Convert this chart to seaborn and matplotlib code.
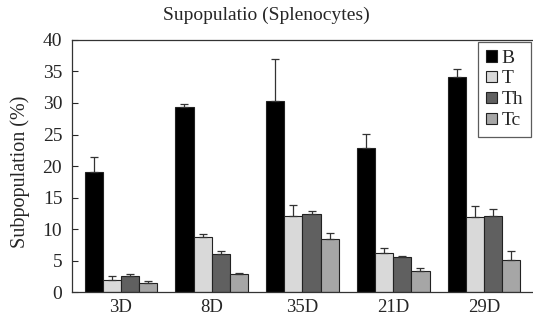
import matplotlib
matplotlib.use("Agg")
import matplotlib.pyplot as plt
import seaborn as sns
import pandas as pd
import numpy as np

days = ["3D", "8D", "35D", "21D", "29D"]
subsets = ["B", "T", "Th", "Tc"]
B_vals = [19.1, 29.4, 30.3, 22.9, 34.1]
T_vals = [1.95, 8.8, 12.1, 6.2, 11.9]
Th_vals = [2.65, 6.1, 12.4, 5.6, 12.1]
Tc_vals = [1.4, 2.85, 8.4, 3.4, 5.1]
B_err = [2.3, 0.4, 6.6, 2.2, 1.3]
T_err = [0.6, 0.4, 1.7, 0.75, 1.8]
Th_err = [0.2, 0.5, 0.45, 0.2, 1.05]
Tc_err = [0.4, 0.25, 0.95, 0.45, 1.4]
colors = ["#000000", "#d9d9d9", "#606060", "#a6a6a6"]

vals = {"B": B_vals, "T": T_vals, "Th": Th_vals, "Tc": Tc_vals}
errs = {"B": B_err, "T": T_err, "Th": Th_err, "Tc": Tc_err}
rows = []
for s in subsets:
    for d, v, e in zip(days, vals[s], errs[s]):
        rows.append({"day": d, "subset": s, "value": v, "err": e})
df = pd.DataFrame(rows)

sns.set_style("white")
plt.rcParams["font.family"] = ["Liberation Serif", "DejaVu Serif"]

fig = plt.figure(figsize=(5.33, 3.24), dpi=100)
ax = fig.add_axes([0.135, 0.098, 0.865, 0.779])
sns.barplot(data=df, x="day", y="value", hue="subset", order=days,
            hue_order=subsets, palette=colors, width=0.8, ax=ax,
            edgecolor="#222222", linewidth=0.8, errorbar=None, saturation=1)

for cont, s in zip(ax.containers, subsets):
    xs = [p.get_x() + p.get_width() / 2 for p in cont.patches]
    hs = [p.get_height() for p in cont.patches]
    e = errs[s]
    ax.errorbar(xs, hs, yerr=[np.zeros(len(e)), e], fmt="none",
                ecolor="#333333", elinewidth=0.9, capsize=3, capthick=0.9)

ax.set_ylim(0, 40)
ax.set_yticks(range(0, 41, 5))
ax.set_xlim(-0.54, 4.54)
ax.set_xlabel("")
ax.set_ylabel("")
fig.text(0.038, 0.47, "Subpopulation (%)", rotation=90, fontsize=14.5,
         ha="center", va="center")
fig.text(0.5, 0.953, "Supopulatio (Splenocytes)", fontsize=14,
         ha="center", va="center")
ax.tick_params(axis="y", direction="in", length=4, width=0.8,
               labelsize=14, pad=7, left=True)
ax.tick_params(axis="x", length=0, labelsize=13.5, pad=5)
for sp in ax.spines.values():
    sp.set_color("#333333")
    sp.set_linewidth(0.9)
ax.spines["right"].set_visible(False)

leg = ax.legend(loc="upper right", fontsize=14, frameon=True, fancybox=False,
                handlelength=0.55, handleheight=0.55, handletextpad=0.25,
                borderpad=0.4, labelspacing=0.2, borderaxespad=0.1,
                edgecolor="#333333")
leg.get_frame().set_linewidth(0.9)

fig.savefig("out.png", dpi=100)
